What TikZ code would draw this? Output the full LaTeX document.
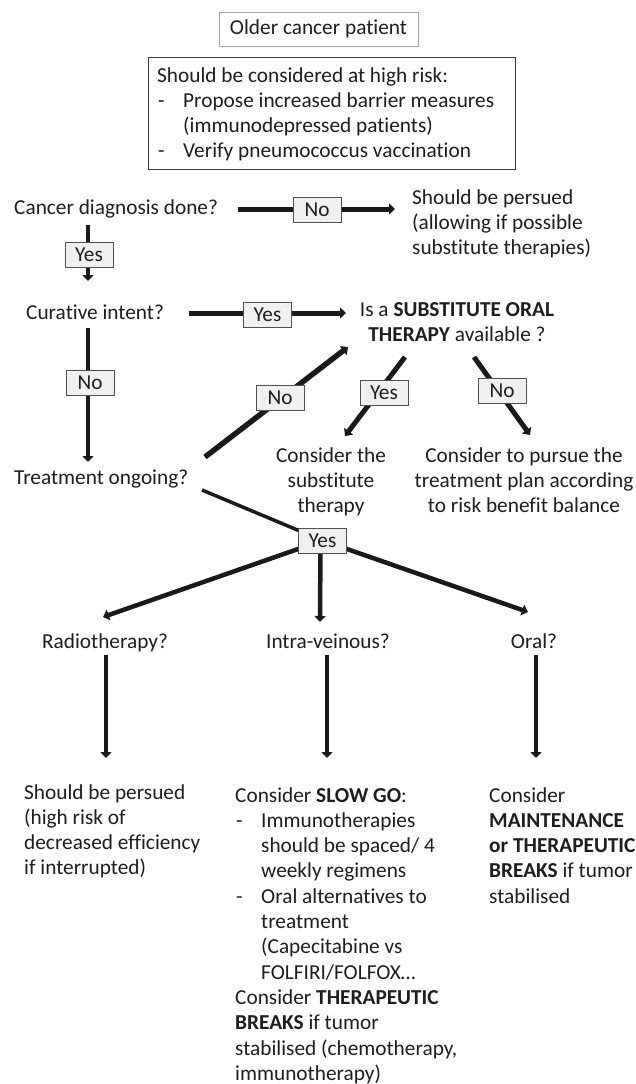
\documentclass[tikz,border=0pt]{standalone}
\usepackage{fontspec}
\setmainfont{Carlito}[Ligatures={NoCommon}]
\usetikzlibrary{arrows.meta,calc}
\definecolor{txt}{HTML}{1E1E1E}
\definecolor{ink}{HTML}{1A1A1A}
\definecolor{lblfill}{HTML}{F0F0F0}
\definecolor{lbldraw}{HTML}{505050}
\newcommand\fsz{\fontsize{21.3}{25.3}\selectfont}
\newcommand\bul{\makebox[26pt][l]{\hspace{1pt}-}}
\newcommand\indt{\hspace{26pt}}
\tikzset{
  txtnode/.style={font=\fsz, text=txt, inner sep=0pt},
  lbl/.style={draw=lbldraw, fill=lblfill, line width=0.8pt, font=\fsz, text=txt,
    minimum width=48pt, minimum height=25pt, inner sep=0pt},
  arr/.style={draw=ink, line width=5pt, -{Triangle[length=6pt,width=11pt]}},
  arrthin/.style={draw=ink, line width=4.5pt, -{Triangle[length=6pt,width=11pt]}},
  plain/.style={draw=ink, line width=3.5pt}
}
\begin{document}
\begin{tikzpicture}[x=1pt,y=-1pt]
\useasboundingbox[fill=white] (0,0) rectangle (635,1084);

% top boxes
\node[txtnode, draw=gray!70, line width=0.8pt, minimum width=199pt, minimum height=34pt] (older) at (318.5,29) {Older cancer patient};
\node[draw=ink!85, line width=0.9pt, minimum width=367pt, minimum height=112pt, anchor=north west, inner sep=0pt] (riskbox) at (148,57) {};
\node[txtnode, anchor=base west] (risk) at (157,82) {\begin{tabular}[t]{@{}l@{}}
Should be considered at high risk:\\
\bul Propose increased barrier measures\\
\indt(immunodepressed patients)\\
\bul Verify pneumococcus vaccination
\end{tabular}};

% question nodes
\node[txtnode, anchor=base west] (cdx) at (14,214) {Cancer diagnosis done?};
\node[txtnode, anchor=base west] (persued) at (412,204) {\begin{tabular}[t]{@{}l@{}}
Should be persued\\(allowing if possible\\substitute therapies)\end{tabular}};
\node[txtnode, anchor=base west] (ci) at (26,319) {Curative intent?};
\node[txtnode, anchor=base] (sub) at (457,316) {\begin{tabular}[t]{@{}c@{}}
Is a \textbf{SUBSTITUTE ORAL}\\\textbf{THERAPY} available ?\end{tabular}};
\node[txtnode, anchor=base west] (tog) at (14,484) {Treatment ongoing?};
\node[txtnode, anchor=base] (cst) at (331,462) {\begin{tabular}[t]{@{}c@{}}
Consider the\\substitute\\therapy\end{tabular}};
\node[txtnode, anchor=base] (cpt) at (524,462) {\begin{tabular}[t]{@{}c@{}}
Consider to pursue the\\treatment plan according\\to risk benefit balance\end{tabular}};
\node[txtnode, anchor=base] (radio) at (105,648) {Radiotherapy?};
\node[txtnode, anchor=base] (iv) at (328,648) {Intra-veinous?};
\node[txtnode, anchor=base] (oral) at (534,648) {Oral?};

% bottom texts
\node[txtnode, anchor=base west] (rbot) at (24,799) {\begin{tabular}[t]{@{}l@{}}
Should be persued\\(high risk of\\decreased efficiency\\if interrupted)\end{tabular}};
\node[txtnode, anchor=base west] (ivbot) at (235,802) {\begin{tabular}[t]{@{}l@{}}
Consider \textbf{SLOW GO}:\\
\bul Immunotherapies\\
\indt should be spaced/ 4\\
\indt weekly regimens\\
\bul Oral alternatives to\\
\indt treatment\\
\indt (Capecitabine vs\\
\indt FOLFIRI/FOLFOX…\\
Consider \textbf{THERAPEUTIC}\\
\textbf{BREAKS} if tumor\\
stabilised (chemotherapy,\\
immunotherapy)\end{tabular}};
\node[txtnode, anchor=base west] (obot) at (489,802) {\begin{tabular}[t]{@{}l@{}}
Consider\\\textbf{MAINTENANCE}\\\textbf{or THERAPEUTIC}\\\textbf{BREAKS} if tumor\\stabilised\end{tabular}};

% connectors
\draw[arr] ($(cdx.base west)+(224,-5)$) -- ($(persued.base west)+(-17,5)$);
\draw[arrthin] ($(cdx.base west)+(74,11)$) -- ($(ci.base west)+(62,-38)$);
\draw[arr] ($(ci.base west)+(163,-6)$) -- ($(sub.base)+(-111,-3)$);
\draw[arrthin] ($(ci.base west)+(62,9)$) -- ($(tog.base west)+(74,-22)$);
\draw[arr, line width=5.5pt] ($(tog.base west)+(191,-27)$) -- ($(sub.base)+(-109,31)$);
\draw[arr] ($(sub.base)+(-52,41)$) -- ($(cst.base)+(14,-26)$);
\draw[arr] ($(sub.base)+(17,41)$) -- ($(cpt.base)+(6,-27)$);
\coordinate (yesin) at (322.5,540.5);
\draw[plain] ($(tog.base west)+(188,6)$) -- (yesin);
\draw[arrthin] (yesin) -- ($(radio.base)+(-2,-31)$);
\draw[arrthin] ($(yesin)+(-2,0)$) -- ($(iv.base)+(-8,-26)$);
\draw[arrthin] (yesin) -- ($(oral.base)+(-6,-36)$);
\draw[arrthin] ($(radio.base)+(1,7)$) -- ($(rbot.base west)+(82,-41)$);
\draw[arrthin] ($(iv.base)+(-1,7)$) -- ($(ivbot.base west)+(92,-44)$);
\draw[arrthin] ($(oral.base)+(2,7)$) -- ($(obot.base west)+(47,-44)$);

% labels on connectors
\node[lbl] (lNo1) at (317,210) {No};
\node[lbl] (lYes1) at (89,254.5) {Yes};
\node[lbl] (lYes2) at (267.5,314.5) {Yes};
\node[lbl] (lNo2) at (90,383) {No};
\node[lbl] (lNo3) at (280,398) {No};
\node[lbl] (lYes3) at (384,393) {Yes};
\node[lbl] (lNo4) at (502,391) {No};
\node[lbl] (lYes4) at (yesin) {Yes};
\end{tikzpicture}
\end{document}
